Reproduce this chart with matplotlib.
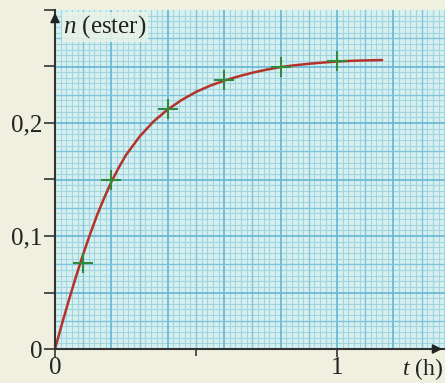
import numpy as np
import matplotlib
matplotlib.use("Agg")
import matplotlib.pyplot as plt
from matplotlib.ticker import MultipleLocator

plt.rcParams["mathtext.fontset"] = "custom"
plt.rcParams["mathtext.it"] = "Liberation Serif:italic"
plt.rcParams["mathtext.rm"] = "Liberation Serif"

# Measured points (t in h, n in mol)
t_pts = [0.1, 0.2, 0.4, 0.6, 0.8, 1.0]
n_pts = [0.076, 0.150, 0.212, 0.238, 0.250, 0.255]

# Curve
t_curve = [0, 0.025, 0.05, 0.075, 0.1, 0.125, 0.15, 0.175, 0.2, 0.225, 0.25, 0.3, 0.35,
           0.4, 0.45, 0.5, 0.55, 0.6, 0.65, 0.7, 0.75, 0.8, 0.85, 0.9, 0.95, 1.0,
           1.05, 1.1, 1.16]
n_curve = [0, 0.0225, 0.044, 0.0645, 0.084, 0.102, 0.119, 0.134, 0.148, 0.160, 0.171,
           0.188, 0.2015, 0.212, 0.2205, 0.2275, 0.233, 0.2375, 0.2412, 0.2445, 0.2472,
           0.2495, 0.2511, 0.2524, 0.2535, 0.2544, 0.255, 0.2554, 0.2557]

x_ticks = [0, 1]
x_ticklabels = ["0", "1"]
y_ticks = [0, 0.1, 0.2]
y_ticklabels = ["0", "0,1", "0,2"]

W, H = 445, 383
fig = plt.figure(figsize=(W / 100, H / 100), dpi=100)
fig.patch.set_facecolor("#eff0df")

ax = fig.add_axes([55 / W, 34 / H, 1 - 55 / W, (349 - 10) / H])
ax.set_facecolor("#d6f0ef")
xmax = (W - 55) / 282.0
ymax = (349 - 10) / 1130.0
ax.set_xlim(0, xmax)
ax.set_ylim(0, ymax)

# millimetre paper grid
for v in np.arange(0.02, xmax, 0.02):
    k = int(round(v / 0.02))
    if k % 10 == 0:
        ax.axvline(v, color="#6db9d6", lw=1.3, zorder=1)
    elif k % 5 == 0:
        ax.axvline(v, color="#80c3dc", lw=1.0, zorder=1)
    else:
        ax.axvline(v, color="#a3d5e1", lw=0.8, zorder=0.5)
for v in np.arange(0.005, ymax, 0.005):
    k = int(round(v / 0.005))
    if k % 10 == 0:
        ax.axhline(v, color="#6db9d6", lw=1.3, zorder=1)
    elif k % 5 == 0:
        ax.axhline(v, color="#80c3dc", lw=1.0, zorder=1)
    else:
        ax.axhline(v, color="#a3d5e1", lw=0.8, zorder=0.5)

ax.plot(t_curve, n_curve, color="#b3322a", lw=1.8, zorder=3,
        solid_capstyle="round", solid_joinstyle="round")
ax.plot(t_pts, n_pts, linestyle="none", marker="+", ms=15, mew=1.5, color="#2f8a3c", zorder=4)

for s in ["top", "right"]:
    ax.spines[s].set_visible(False)
for s in ["left", "bottom"]:
    ax.spines[s].set_color("#333333")
    ax.spines[s].set_linewidth(1.5)
    ax.spines[s].set_zorder(5)

serif = ["Liberation Serif", "DejaVu Serif"]
ax.set_xticks(x_ticks)
ax.set_xticklabels(x_ticklabels, fontfamily=serif, fontsize=18)
ax.set_yticks(y_ticks)
ax.set_yticklabels(y_ticklabels, fontfamily=serif, fontsize=18)
ax.xaxis.set_minor_locator(MultipleLocator(0.5))
ax.yaxis.set_minor_locator(MultipleLocator(0.05))
ax.tick_params(axis="x", which="both", direction="out", length=6, width=1.2, color="#333333", pad=0)
ax.tick_params(axis="y", which="both", direction="out", length=8, width=1.2, color="#333333", pad=1)
ax.tick_params(axis="x", which="minor", length=5)
ax.tick_params(labelcolor="#222222")

# arrows
ax.annotate("", xy=(0, ymax), xytext=(0, ymax - 0.01),
            arrowprops=dict(arrowstyle="-|>", color="#222222", lw=1.2, mutation_scale=14),
            annotation_clip=False, zorder=6)
ax.annotate("", xy=(xmax, 0), xytext=(xmax - 0.03, 0),
            arrowprops=dict(arrowstyle="-|>", color="#222222", lw=1.2, mutation_scale=14),
            annotation_clip=False, zorder=6)

ax.text(0.03, ymax - 0.003, "$n$ (ester)", fontfamily=serif, fontsize=18, va="top", ha="left",
        color="#222222", zorder=7,
        bbox=dict(facecolor="#eaf3e8", edgecolor="none", alpha=0.85, pad=1.0))
ax.text(xmax - 0.006, -0.006, "$t$ (h)", fontfamily=serif, fontsize=17, va="top", ha="right",
        color="#222222", clip_on=False)

fig.savefig("out.png", dpi=100, facecolor=fig.get_facecolor())
